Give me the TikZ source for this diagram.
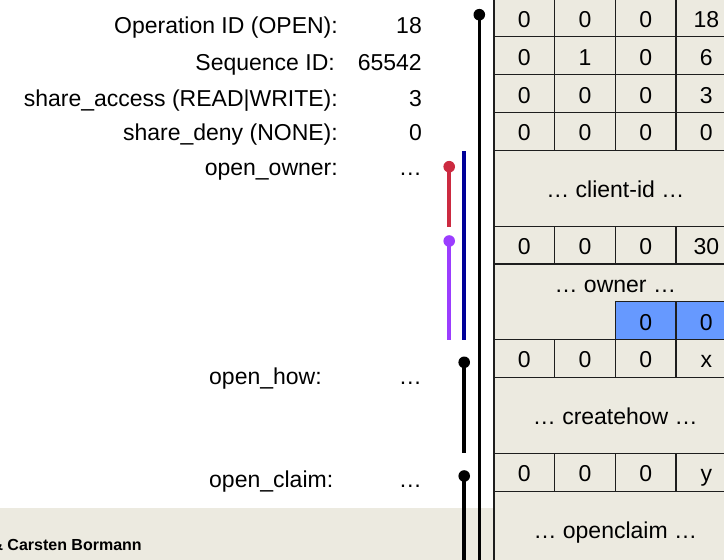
\documentclass[tikz,border=0pt]{standalone}
\usepackage{fontspec}
\setmainfont{Liberation Sans}
\definecolor{bgbeige}{HTML}{ECEAE0}
\definecolor{cellblue}{HTML}{6699FF}
\definecolor{redl}{HTML}{CC2A40}
\definecolor{purl}{HTML}{9B3DFF}
\definecolor{navyl}{HTML}{000099}
\definecolor{gridc}{HTML}{1E1E1E}
\begin{document}
\begin{tikzpicture}[x=1pt,y=-1pt,
  big/.style={font=\fontsize{23}{27}\selectfont},
  lbl/.style={big,anchor=base east,inner sep=0pt},
  lbll/.style={big,anchor=base west,inner sep=0pt},
  cell/.style={big,draw=gridc,line width=1.1pt,minimum width=60.67pt,minimum height=37.85pt,
    inner sep=0pt,text height=20pt,text depth=1.2pt,anchor=center},
  blockbox/.style={big,draw=gridc,line width=1.1pt,minimum width=242.67pt,minimum height=75.7pt,
    inner sep=0pt,text height=20pt,text depth=1.2pt,anchor=center},
  plaintxt/.style={big,inner sep=0pt,text height=20pt,text depth=1.2pt,anchor=center},
  rangeline/.style={line width=3.5pt},
]
\useasboundingbox (0,0) rectangle (724,560);
% backgrounds
\fill[bgbeige] (0,508) rectangle (494,560);
\fill[bgbeige] (494,-5) rectangle (740,570);

% ---- table ----
\def\ca{524.33}\def\cb{585}\def\cc{645.67}\def\cd{706.33}\def\cm{615.33}
% row centres
\def\ra{17.925}\def\rb{55.775}\def\rc{93.625}\def\rd{131.475}
\def\rclient{188.25}\def\rthirty{245.025}\def\rowner{301.8}
\def\rownertxt{282.875}\def\rblue{320.725}\def\rx{358.575}
\def\rcreate{415.35}\def\ry{472.125}\def\rclaim{528.9}

\node[cell] (c11) at (\ca,\ra) {0};
\node[cell] (c12) at (\cb,\ra) {0};
\node[cell] (c13) at (\cc,\ra) {0};
\node[cell] (c14) at (\cd,\ra) {18};
\node[cell] (c21) at (\ca,\rb) {0};
\node[cell] (c22) at (\cb,\rb) {1};
\node[cell] (c23) at (\cc,\rb) {0};
\node[cell] (c24) at (\cd,\rb) {6};
\node[cell] (c31) at (\ca,\rc) {0};
\node[cell] (c32) at (\cb,\rc) {0};
\node[cell] (c33) at (\cc,\rc) {0};
\node[cell] (c34) at (\cd,\rc) {3};
\node[cell] (c41) at (\ca,\rd) {0};
\node[cell] (c42) at (\cb,\rd) {0};
\node[cell] (c43) at (\cc,\rd) {0};
\node[cell] (c44) at (\cd,\rd) {0};
\node[blockbox] (client) at (\cm,\rclient) {… client-id …};
\node[cell] (c51) at (\ca,\rthirty) {0};
\node[cell] (c52) at (\cb,\rthirty) {0};
\node[cell] (c53) at (\cc,\rthirty) {0};
\node[cell] (c54) at (\cd,\rthirty) {30};
\node[blockbox] (owner) at (\cm,\rowner) {};
\node[plaintxt] (ownertxt) at (\cm,\rownertxt) {… owner …};
\node[cell,fill=cellblue] (b1) at (\cc,\rblue) {0};
\node[cell,fill=cellblue] (b2) at (\cd,\rblue) {0};
\node[cell] (c61) at (\ca,\rx) {0};
\node[cell] (c62) at (\cb,\rx) {0};
\node[cell] (c63) at (\cc,\rx) {0};
\node[cell] (c64) at (\cd,\rx) {x};
\node[blockbox] (createhow) at (\cm,\rcreate) {… createhow …};
\node[cell] (c71) at (\ca,\ry) {0};
\node[cell] (c72) at (\cb,\ry) {0};
\node[cell] (c73) at (\cc,\ry) {0};
\node[cell] (c74) at (\cd,\ry) {y};
\node[blockbox] (openclaim) at (\cm,\rclaim) {… openclaim …};

% ---- labels ----
\node[lbl] (l1) at (338,33) {Operation ID (OPEN):};
\node[lbl] (v1) at (422,33) {18};
\node[lbl] (l2) at (335,70) {Sequence ID:};
\node[lbl] (v2) at (422,70) {65542};
\node[lbl] (l3) at (338,106) {share\_access (READ|WRITE):};
\node[lbl] (v3) at (422,106) {3};
\node[lbl] (l4) at (338,140) {share\_deny (NONE):};
\node[lbl] (v4) at (422,140) {0};
\node[lbl] (l5) at (338,175) {open\_owner:};
\node[lbl] (v5) at (422,175) {…};
\node[lbll] (l6) at (209,384) {open\_how:};
\node[lbl] (v6) at (422,384) {…};
\node[lbll] (l7) at (209,487) {open\_claim:};
\node[lbl] (v7) at (422,487) {…};

% ---- range lines ----
\coordinate (mainTop) at (479.3,14.7);
\coordinate (mainBot) at (479.3,572);
\coordinate (redTop) at (449.2,166.7);
\coordinate (redBot) at (449.2,226.7);
\coordinate (purTop) at (449.2,241);
\coordinate (purBot) at (449.2,340);
\coordinate (navTop) at (463.8,151);
\coordinate (navBot) at (463.8,340);
\coordinate (howTop) at (464.2,362.3);
\coordinate (howBot) at (464.2,453.3);
\coordinate (clmTop) at (464.2,476);
\coordinate (clmBot) at (464.2,572);

\draw[rangeline,black] (mainTop) -- (mainBot);
\fill[black] (mainTop) circle (5.8);
\draw[rangeline,redl] (redTop) -- (redBot);
\fill[redl] (redTop) circle (5.8);
\draw[rangeline,purl] (purTop) -- (purBot);
\fill[purl] (purTop) circle (5.8);
\draw[rangeline,navyl] (navTop) -- (navBot);
\draw[rangeline,black] (howTop) -- (howBot);
\fill[black] (howTop) circle (5.8);
\draw[rangeline,black] (clmTop) -- (clmBot);
\fill[black] (clmTop) circle (5.8);

% ---- footer ----
\node[anchor=base west,inner sep=0pt,font=\fontsize{16}{19}\selectfont\bfseries] (footer) at (-8.7,550) {\& Carsten Bormann};
\end{tikzpicture}
\end{document}
